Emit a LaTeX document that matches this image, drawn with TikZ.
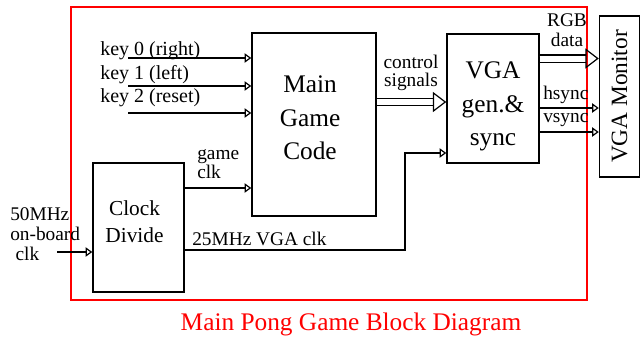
\documentclass[tikz,border=0pt]{standalone}
\usepackage{fontspec}
\setmainfont{Liberation Serif}
\usetikzlibrary{arrows.meta}
\tikzset{
	blk/.style={draw,line width=1.1pt,inner sep=0pt,align=center},
	sig/.style={line width=1.1pt,-{Triangle[open,length=5pt,width=7pt,line width=0.9pt]}},
	bus/.style={line width=0.9pt,double,double distance=4.5pt,-{Triangle[open,length=10pt,width=15pt,line width=0.9pt]}},
	lbl/.style={inner sep=0pt,font=\fontsize{14.5}{14}\selectfont,align=left},
	big/.style={align=center,font=\fontsize{19}{25}\selectfont},
}
\begin{document}
\begin{tikzpicture}[x=0.75pt,y=-0.75pt]
	\useasboundingbox (0,0) rectangle (641,343);
	\draw[red,line width=1pt] (71,7) rectangle (587,300);
	\node[blk,minimum width=93pt,minimum height=137.25pt,
		label={[big,xshift=-3pt,yshift=5pt]center:Main\\Game\\Code}] (game) at (314,124.5) {};
	\node[blk,minimum width=69pt,minimum height=96.75pt,
		label={[big,yshift=-6pt]center:VGA\\gen.\&\\sync}] (vga) at (493,98.5) {};
	\node[blk,minimum width=68.25pt,minimum height=96.75pt,
		label={[align=center,font=\fontsize{16}{20}\selectfont,xshift=-3pt,yshift=4.5pt]center:Clock\\Divide}] (clock) at (138.5,227.5) {};
	\node[blk,minimum width=30pt,minimum height=120.75pt,
		label={[rotate=90,font=\fontsize{17.5}{20}\selectfont]center:VGA Monitor}] (monitor) at (619.5,96.5) {};
	% keys
	\foreach \k/\t/\y in {0/right/58,1/left/86,2/reset/113}{
		\node[lbl,anchor=west,font=\fontsize{15}{13}\selectfont] (key\k) at (100,\y-7-8*\k/2) {key \k\ (\t)};
		\coordinate (in\k) at (128,\y);
		\draw[sig] (in\k) -- (in\k -| game.west);
	}
	% clocks
	\coordinate (osc) at (57,252);
	\draw[sig] (osc) -- (osc -| clock.west);
	\node[lbl,anchor=west,font=\fontsize{14.5}{15}\selectfont] (osclbl) at (10,234) {50MHz\\on-board\\\hspace{4pt}clk};
	\draw[sig] (clock.east |- 0,188) -- (game.west |- 0,188);
	\node[lbl,anchor=west] (gclk) at (197,164) {game\\clk};
	\coordinate (bend) at (405,153);
	\draw[sig] (clock.east |- 0,250) -| (bend) -- (bend -| vga.west);
	\node[lbl,anchor=west] (vclk) at (192,239) {25MHz VGA clk};
	% buses and syncs
	\draw[bus] (game.east |- 0,102) -- (vga.west |- 0,102);
	\node[lbl,align=center] (ctl) at (411,73) {control\\signals};
	\draw[bus] (vga.east |- 0,58.5) -- (monitor.west |- 0,58.5);
	\node[lbl,align=center,font=\fontsize{14.5}{15}\selectfont] (rgb) at (567,30) {RGB\\data};
	\draw[sig] (vga.east |- 0,108) -- (monitor.west |- 0,108);
	\node[lbl,anchor=west] (hs) at (543,95) {hsync};
	\draw[sig] (vga.east |- 0,132) -- (monitor.west |- 0,132);
	\node[lbl,anchor=west] (vs) at (543,120) {vsync};
	\node[red,inner sep=0pt,font=\fontsize{19}{22}\selectfont] (title) at (351,324) {Main Pong Game Block Diagram};
\end{tikzpicture}
\end{document}
